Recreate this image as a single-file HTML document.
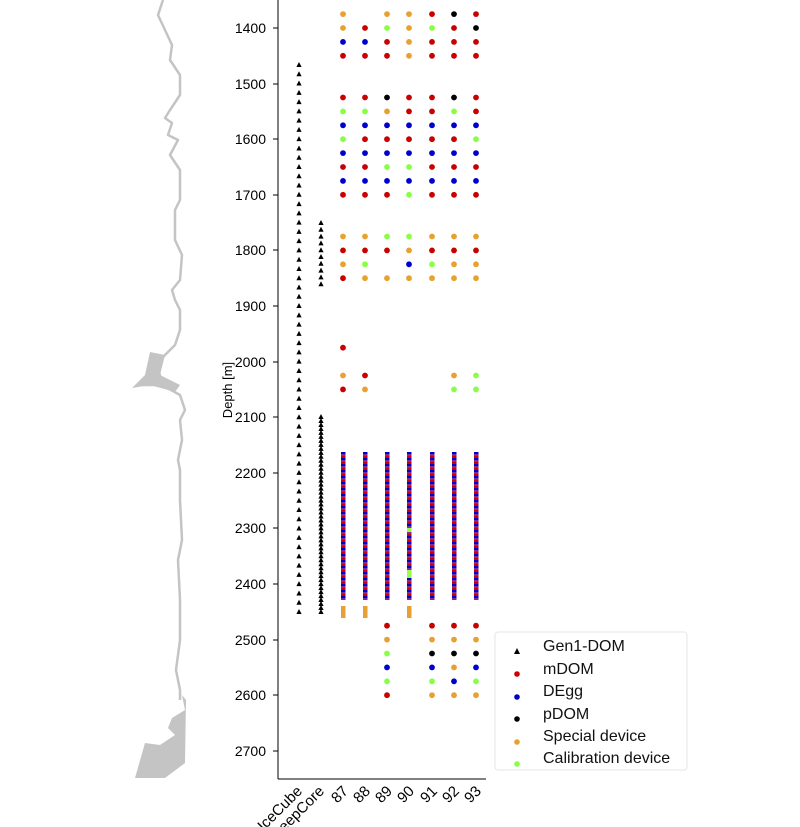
<!DOCTYPE html>
<html><head><style>body{margin:0;background:#fff}svg{display:block}</style></head><body>
<svg width="800" height="827" viewBox="0 0 800 827" xmlns="http://www.w3.org/2000/svg" font-family="Liberation Sans, DejaVu Sans, sans-serif">
<defs>
<pattern id="st" width="4" height="6" patternUnits="userSpaceOnUse">
<rect width="4" height="2" fill="#c00"/><rect y="2" width="4" height="2" fill="#0000cc"/><rect y="4" width="4" height="2" fill="#7a2a9a"/>
</pattern>
</defs>
<polyline fill="none" stroke="#c4c4c4" stroke-width="2.5" stroke-linejoin="round" points="163,0 158,15 165,30 172,45 170,60 180,75 180,95 170,110 165,118 172,123 168,135 178,140 170,155 180,170 180,200 175,210 175,240 182,255 180,280 172,290 175,300 180,310 180,330 175,345 165,355 155,365 160,375 140,385 162,385 180,395 185,410 180,420 182,440 178,460 180,470 180,500 182,540 178,560 180,600 180,640 176,670 180,690 180,700"/>
<polygon fill="#c4c4c4" points="150,352 165,355 160,375 180,385 175,392 150,385 132,388 145,375"/>
<polygon fill="#c4c4c4" points="182,695 185,710 172,718 168,728 175,735 160,745 145,743 135,778 165,778 185,763 186,700"/>
<line x1="278" y1="0" x2="278" y2="779" stroke="#000" stroke-width="1"/>
<line x1="278" y1="779" x2="486" y2="779" stroke="#000" stroke-width="1"/>
<g font-size="14" text-anchor="end" fill="#000">
<text x="266" y="33">1400</text><text x="266" y="89">1500</text><text x="266" y="144">1600</text><text x="266" y="200">1700</text><text x="266" y="255">1800</text><text x="266" y="311">1900</text><text x="266" y="367">2000</text><text x="266" y="422">2100</text><text x="266" y="478">2200</text><text x="266" y="533">2300</text><text x="266" y="589">2400</text><text x="266" y="645">2500</text><text x="266" y="700">2600</text><text x="266" y="756">2700</text>
</g>
<g stroke="#000"><line x1="273" y1="28" x2="278" y2="28"/><line x1="273" y1="84" x2="278" y2="84"/><line x1="273" y1="139" x2="278" y2="139"/><line x1="273" y1="195" x2="278" y2="195"/><line x1="273" y1="250" x2="278" y2="250"/><line x1="273" y1="306" x2="278" y2="306"/><line x1="273" y1="362" x2="278" y2="362"/><line x1="273" y1="417" x2="278" y2="417"/><line x1="273" y1="473" x2="278" y2="473"/><line x1="273" y1="528" x2="278" y2="528"/><line x1="273" y1="584" x2="278" y2="584"/><line x1="273" y1="640" x2="278" y2="640"/><line x1="273" y1="695" x2="278" y2="695"/><line x1="273" y1="751" x2="278" y2="751"/></g>
<text x="232" y="390" font-size="13" text-anchor="middle" transform="rotate(-90 232 390)">Depth [m]</text>
<g font-size="15" text-anchor="end">
<text transform="translate(303,792) rotate(-45)">IceCube</text>
<text transform="translate(325,792) rotate(-45)">DeepCore</text>
<text transform="translate(349,792) rotate(-45)">87</text>
<text transform="translate(371,792) rotate(-45)">88</text>
<text transform="translate(393,792) rotate(-45)">89</text>
<text transform="translate(415,792) rotate(-45)">90</text>
<text transform="translate(438,792) rotate(-45)">91</text>
<text transform="translate(460,792) rotate(-45)">92</text>
<text transform="translate(482,792) rotate(-45)">93</text>
</g>
<g id="tri"></g>
<g id="dots"></g>
<g>
<rect x="341" y="452" width="4.5" height="148" fill="url(#st)"/>
<rect x="363" y="452" width="4.5" height="148" fill="url(#st)"/>
<rect x="385" y="452" width="4.5" height="148" fill="url(#st)"/>
<rect x="407" y="452" width="4.5" height="148" fill="url(#st)"/>
<rect x="430" y="452" width="4.5" height="148" fill="url(#st)"/>
<rect x="452" y="452" width="4.5" height="148" fill="url(#st)"/>
<rect x="474" y="452" width="4.5" height="148" fill="url(#st)"/>
<rect x="407" y="570" width="4.5" height="8" fill="#9f4"/>
<rect x="407" y="528" width="4.5" height="4" fill="#9f4"/>
<rect x="341" y="606" width="4.5" height="12" fill="#e8a030"/>
<rect x="363" y="606" width="4.5" height="12" fill="#e8a030"/>
<rect x="407" y="606" width="4.5" height="12" fill="#e8a030"/>
</g>
<rect x="495" y="632" width="192" height="138" fill="#fff" stroke="#e6e6e6" rx="3"/>
<polygon points="517,648 520,654 514,654" fill="#000"/>
<circle cx="517" cy="674" r="2.8" fill="#c00"/>
<circle cx="517" cy="697" r="2.8" fill="#0000cc"/>
<circle cx="517" cy="719" r="2.8" fill="#000"/>
<circle cx="517" cy="742" r="2.8" fill="#e8a030"/>
<circle cx="517" cy="764" r="2.8" fill="#8f4"/>
<g font-size="16" fill="#111">
<text x="543" y="651">Gen1-DOM</text><text x="543" y="674">mDOM</text><text x="543" y="696">DEgg</text><text x="543" y="719">pDOM</text><text x="543" y="741">Special device</text><text x="543" y="763">Calibration device</text>
</g>
<script>
(function(){
var NS="http://www.w3.org/2000/svg";
function y(d){return 28+(d-1400)*0.556;}
var tg=document.getElementById("tri"),dg=document.getElementById("dots");
function tri(x,yy){var p=document.createElementNS(NS,"polygon");p.setAttribute("points",(x)+","+(yy-3)+" "+(x+2.6)+","+(yy+2)+" "+(x-2.6)+","+(yy+2));p.setAttribute("fill","#000");tg.appendChild(p);}
for(var i=0;i<60;i++){tri(299,65+i*(612-65)/59);}
for(var i=0;i<10;i++){tri(321,223+i*6.8);}
for(var i=0;i<50;i++){tri(321,417+i*(612-417)/49);}
var C={R:"#c80000",B:"#0000cc",K:"#000",O:"#e8a030",G:"#8f4"};
var xs=[343,365,387,409,432,454,476];
var rows=[[1375,"O-OORKR"],[1400,"ORGOGRK"],[1425,"BBRORRR"],[1450,"RRRORRR"],
[1525,"RRKRRKR"],[1550,"GGORRGR"],[1575,"BBBBBBB"],[1600,"GRRRRRG"],[1625,"BBBBBBB"],[1650,"RRGGRRR"],[1675,"BBBBBBB"],[1700,"RRRGRRR"],
[1775,"OOGGOOO"],[1800,"RRRORRR"],[1825,"OG-BGOO"],[1850,"ROOOOOO"],
[1975,"R------"],[2025,"OR---OG"],[2050,"RO---GG"],
[2475,"--R-RRR"],[2500,"--O-OOO"],[2525,"--G-KKK"],[2550,"--B-BOB"],[2575,"--G-GBG"],[2600,"--R-OOO"]];
rows.forEach(function(r){for(var j=0;j<7;j++){var c=r[1][j];if(c==="-")continue;var e=document.createElementNS(NS,"circle");e.setAttribute("cx",xs[j]);e.setAttribute("cy",y(r[0]));e.setAttribute("r",2.9);e.setAttribute("fill",C[c]);dg.appendChild(e);}});
})();
</script>
</svg>
</body></html>
